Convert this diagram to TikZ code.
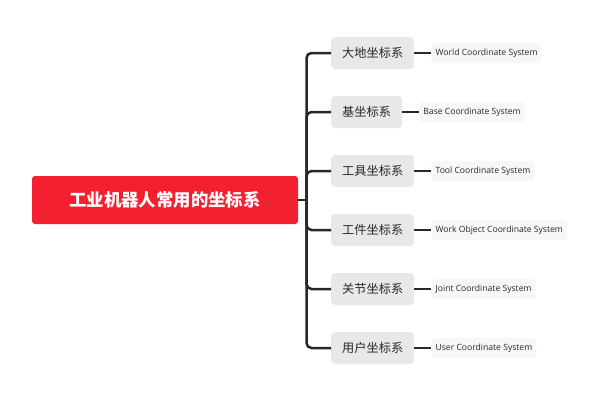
\documentclass[tikz,border=0pt]{standalone}
\usepackage{fontspec}
\setmainfont{Open Sans}
\newfontfamily\cjk{Noto Sans CJK SC}
\usetikzlibrary{positioning}

\definecolor{rootred}{RGB}{243,32,48}
\definecolor{topicgray}{RGB}{232,232,232}
\definecolor{notegray}{RGB}{247,247,247}
\definecolor{linedark}{RGB}{40,40,40}
\definecolor{textdark}{RGB}{40,40,40}

\tikzset{
  root/.style={fill=rootred, rounded corners=3pt, minimum width=266pt, minimum height=48pt,
    text=white, font=\cjk\bfseries\fontsize{17.4}{20}\selectfont},
  topic/.style={fill=topicgray, rounded corners=4pt, minimum height=32pt, inner xsep=11pt,
    text=textdark, font=\cjk\fontsize{12.2}{14}\selectfont},
  note/.style={fill=notegray, rounded corners=3pt, minimum height=20pt, inner xsep=4pt,
    text=textdark, font=\fontsize{8.6}{10}\selectfont},
  link/.style={draw=linedark, line width=2.5pt, rounded corners=5pt},
  twig/.style={draw=linedark, line width=1.8pt}
}

\begin{document}
\begin{tikzpicture}[x=1pt, y=-1pt]
\useasboundingbox (0,0) rectangle (600,400);

% Draw root box
\node[root] (root) at (165,200) {工业机器人常用的坐标系};
\coordinate (fork) at (306.5,200);

% Draw topic boxes
\node[topic, anchor=west] (world) at (331,53) {大地坐标系};
\node[topic, anchor=west] (base) at (331,112) {基坐标系};
\node[topic, anchor=west] (tool) at (331,171) {工具坐标系};
\node[topic, anchor=west] (work) at (331,230) {工件坐标系};
\node[topic, anchor=west] (joint) at (331,289) {关节坐标系};
\node[topic, anchor=west] (user) at (331,348) {用户坐标系};

% Draw note boxes
\node[note, right=17pt of world] (worldnote) {World Coordinate System};
\node[note, right=17pt of base] (basenote) {Base Coordinate System};
\node[note, right=17pt of tool] (toolnote) {Tool Coordinate System};
\node[note, right=17pt of work] (worknote) {Work Object Coordinate System};
\node[note, right=17pt of joint] (jointnote) {Joint Coordinate System};
\node[note, right=17pt of user] (usernote) {User Coordinate System};

% Draw connectors
\draw[link] (root.east) -- (fork);
\foreach \k in {world,base,tool,work,joint,user}
  \draw[link] (fork) |- (\k.west);
\foreach \k in {world,base,tool,work,joint,user}
  \draw[twig] (\k.east) -- (\k note.west);

\end{tikzpicture}
\end{document}
